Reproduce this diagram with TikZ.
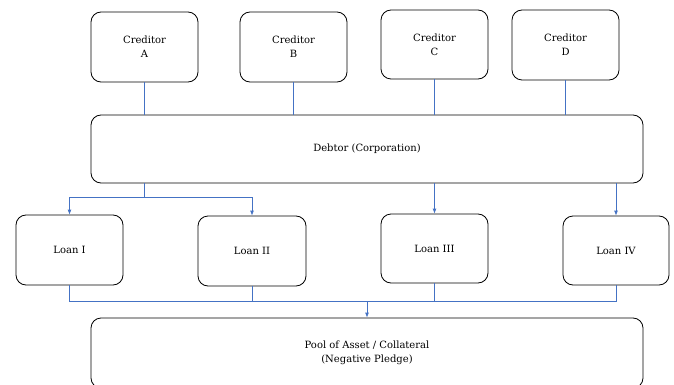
\documentclass[tikz,border=0pt]{standalone}
\usepackage{fontspec}
\setmainfont{DejaVu Serif}
\usepackage{tikz}
\usetikzlibrary{arrows.meta}
\definecolor{linkblue}{RGB}{68,114,196}
\tikzset{
  box/.style={draw,rounded corners=10pt,thick,align=center,font=\fontsize{10}{14}\selectfont,inner sep=0pt},
  small/.style={box,minimum width=107pt,minimum height=70pt},
  link/.style={draw=linkblue,line width=.8pt},
  linkarrow/.style={link,-{Latex[length=5pt,width=4pt]}}
}

\begin{document}
\begin{tikzpicture}[x=1pt,y=-1pt]
    \useasboundingbox (0,0) rectangle (674,385);

    % creditors
    \node[small] (crA) at (144.5,47) {Creditor\\A};
    \node[small] (crB) at (293.5,47) {Creditor\\B};
    \node[small,minimum height=69pt] (crC) at (434.5,44.5) {Creditor\\C};
    \node[small] (crD) at (565.5,45) {Creditor\\D};

    \node[box,minimum width=552pt,minimum height=68pt] (debtor) at (367,149) {Debtor (Corporation)};

    % loans
    \node[small] (loanI) at (69.5,250) {Loan I};
    \node[small,minimum width=108pt] (loanII) at (252,251) {Loan II};
    \node[small,minimum height=69pt] (loanIII) at (434.5,248.5) {Loan III};
    \node[small,minimum width=106pt,minimum height=69pt] (loanIV) at (616,250.5) {Loan IV};

    \node[box,minimum width=552pt,minimum height=70pt] (pool) at (367,353) {Pool of Asset / Collateral\\(Negative Pledge)};

    \coordinate (fork) at (144.5,197);
    \coordinate (merge) at (367,301.5);

    \draw[link] (crA.south) -- (crA.south |- debtor.north);
    \draw[link] (crB.south) -- (crB.south |- debtor.north);
    \draw[link] (crC.south) -- (crC.south |- debtor.north);
    \draw[link] (crD.south) -- (crD.south |- debtor.north);

    \draw[link] (fork |- debtor.south) -- (fork);
    \draw[linkarrow] (fork) -| (loanI.north);
    \draw[linkarrow] (fork) -| (loanII.north);
    \draw[linkarrow] (loanIII.north |- debtor.south) -- (loanIII.north);
    \draw[linkarrow] (loanIV.north |- debtor.south) -- (loanIV.north);

    \draw[link] (loanI.south) |- (merge);
    \draw[link] (loanII.south) |- (merge);
    \draw[link] (loanIII.south) |- (merge);
    \draw[link] (loanIV.south) |- (merge);
    \draw[linkarrow] (merge) -- (merge |- pool.north);
\end{tikzpicture}
\end{document}
